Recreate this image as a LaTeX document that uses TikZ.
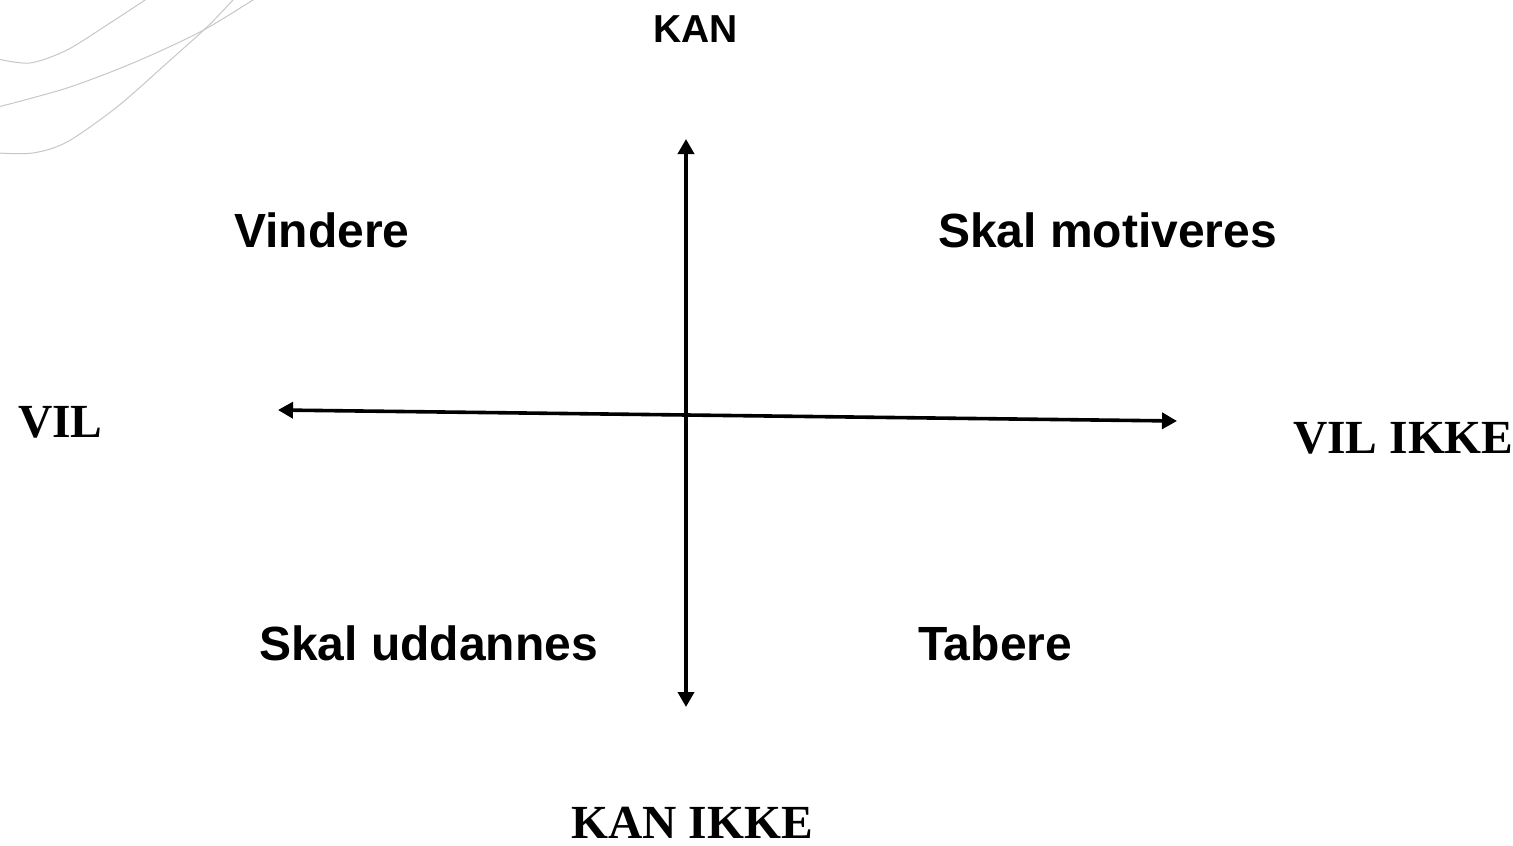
\documentclass[tikz,border=0pt]{standalone}
\usepackage{fontspec}
\setmainfont{Liberation Serif}
\setsansfont{Liberation Sans}
\usetikzlibrary{arrows.meta}
\begin{document}
\begin{tikzpicture}[x=1pt,y=-1pt,
  axis/.style={line width=3.6pt,{Triangle[width=16pt,length=15pt]}-{Triangle[width=16pt,length=15pt]}},
  deco/.style={draw=black!22,line width=1pt},
  quad/.style={anchor=base west,inner sep=0pt,font=\sffamily\bfseries\fontsize{48}{56}\selectfont},
  pole/.style={anchor=base west,inner sep=0pt,text depth=0pt,font=\rmfamily\bfseries\fontsize{47.5}{54}\selectfont},
  topole/.style={anchor=base west,inner sep=0pt,font=\sffamily\bfseries\fontsize{39}{46}\selectfont}]
\useasboundingbox (0,0) rectangle (1513,846);
% light swoosh lines in the corner
\begin{scope}
  \clip (0,0) rectangle (1513,846);
  \draw[deco] plot[smooth] coordinates {(-2,59) (30,63) (67,50) (110,23) (145,0) (152,-6)};
  \draw[deco] plot[smooth] coordinates {(-2,107) (67,88) (133,63) (200,32) (253,0) (262,-6)};
  \draw[deco] plot[smooth] coordinates {(-2,153) (33,153) (67,142) (117,107) (167,63) (207,27) (233,0) (239,-6)};
\end{scope}
% axes
\coordinate (up) at (686,139);
\coordinate (down) at (686,707);
\coordinate (left) at (278,410);
\coordinate (right) at (1177,421);
\draw[axis] (down) -- (up);
\draw[axis] (left) -- (right);
% pole labels
\node[topole] (kan) at (653,42) {KAN};
\node[pole] (kanikke) at (571,838) {KAN IKKE};
\node[pole] (vil) at (18,437) {VIL};
\node[pole] (vilikke) at (1293,453) {VIL IKKE};
% quadrant labels
\node[quad] (vindere) at (234,247) {Vindere};
\node[quad] (motiveres) at (938,247) {Skal motiveres};
\node[quad] (uddannes) at (259,660) {Skal uddannes};
\node[quad] (tabere) at (918,660) {Tabere};
\end{tikzpicture}
\end{document}
